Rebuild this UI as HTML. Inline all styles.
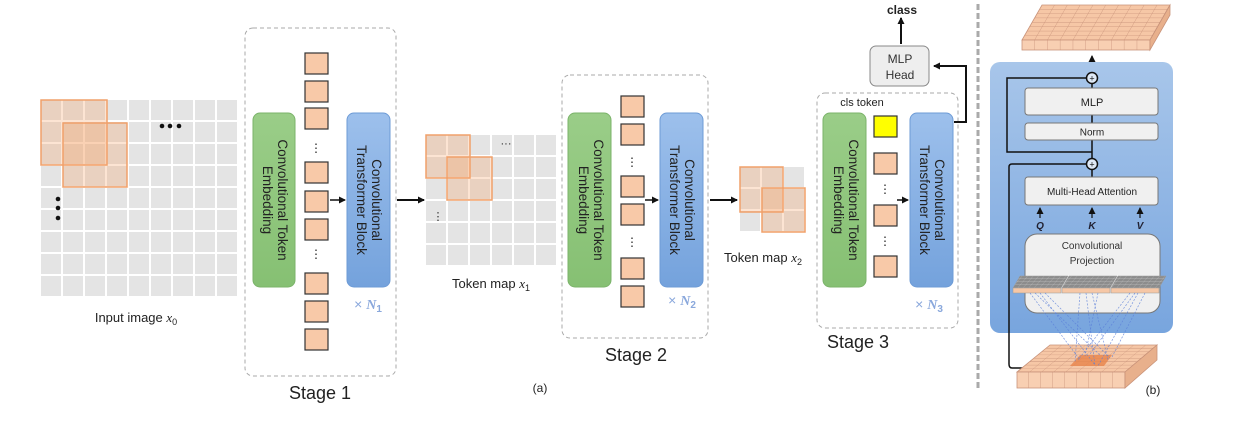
<!DOCTYPE html>
<html><head><meta charset="utf-8"><style>
html,body{margin:0;padding:0;background:#fff;}
svg{display:block;}
text{font-family:"Liberation Sans","DejaVu Sans",sans-serif;}
</style></head><body>
<svg width="1247" height="438" viewBox="0 0 1247 438" xmlns="http://www.w3.org/2000/svg">
<defs>
<pattern id="g22" x="41" y="100" width="22" height="22" patternUnits="userSpaceOnUse"><rect x="0" y="0" width="20" height="20" fill="#e4e4e4"/></pattern>
<pattern id="g22b" x="426" y="135" width="22" height="22" patternUnits="userSpaceOnUse"><rect x="0" y="0" width="20" height="20" fill="#e4e4e4"/></pattern>
<pattern id="g21" x="740" y="167" width="22" height="22" patternUnits="userSpaceOnUse"><rect x="0" y="0" width="20" height="20" fill="#e4e4e4"/></pattern>
<pattern id="tt" width="12.8" height="4.375" patternUnits="userSpaceOnUse" patternTransform="translate(1042,5) skewX(-29.7)"><rect width="12.8" height="4.375" fill="#f6c7a6"/><path d="M12.8 0V4.375M0 4.375H12.8" stroke="#c9937a" stroke-width="0.8" fill="none"/></pattern>
<pattern id="tf" width="12.8" height="10" x="1022" patternUnits="userSpaceOnUse"><rect width="12.8" height="10" fill="#f8cfb2"/><path d="M12.8 0V10" stroke="#c9937a" stroke-width="0.8"/></pattern>
<pattern id="bt" width="12" height="3.375" patternUnits="userSpaceOnUse" patternTransform="translate(1050,345) skewX(-50)"><rect width="12" height="3.375" fill="#f6c7a6"/><path d="M12 0V3.375M0 3.375H12" stroke="#c9937a" stroke-width="0.8" fill="none"/></pattern>
<pattern id="bf" width="12" height="20" x="1017" patternUnits="userSpaceOnUse"><rect width="12" height="20" fill="#f8cfb2"/><path d="M12 0V20" stroke="#c9937a" stroke-width="0.8"/></pattern>
<pattern id="st" width="5.5" height="3" patternUnits="userSpaceOnUse" patternTransform="skewX(-40)"><rect width="5.5" height="3" fill="#8c8c8c"/><path d="M5.5 0V3M0 3H5.5" stroke="#c8c8c8" stroke-width="0.5" fill="none"/></pattern>
<linearGradient id="bl" x1="0" y1="0" x2="0" y2="1"><stop offset="0" stop-color="#a8c6ea"/><stop offset="1" stop-color="#78a5de"/></linearGradient>
<linearGradient id="blb" x1="0" y1="0" x2="0" y2="1"><stop offset="0" stop-color="#9dc0ec"/><stop offset="1" stop-color="#74a2dc"/></linearGradient>
<linearGradient id="gr" x1="0" y1="0" x2="0" y2="1"><stop offset="0" stop-color="#9acd88"/><stop offset="1" stop-color="#86c073"/></linearGradient>
<marker id="ah" markerWidth="8" markerHeight="8" refX="6" refY="4" orient="auto" markerUnits="userSpaceOnUse"><path d="M0,0.5 L7,4 L0,7.5 Z" fill="#111"/></marker>
</defs>

<!-- Input image -->
<rect x="41" y="100" width="198" height="198" fill="url(#g22)"/>
<rect x="41" y="100" width="66" height="65" fill="rgba(245,165,110,0.3)" stroke="#f0a06a" stroke-width="1.5"/>
<rect x="63" y="123" width="64" height="64" fill="rgba(245,165,110,0.3)" stroke="#f0a06a" stroke-width="1.5"/>
<circle cx="162" cy="126" r="2.3" fill="#111"/><circle cx="170" cy="126" r="2.3" fill="#111"/><circle cx="179" cy="126" r="2.3" fill="#111"/>
<circle cx="58" cy="199" r="2.3" fill="#111"/><circle cx="58" cy="208" r="2.3" fill="#111"/><circle cx="58" cy="218" r="2.3" fill="#111"/>
<text x="136" y="322" font-size="13" text-anchor="middle" fill="#222">Input image <tspan font-family="Liberation Serif" font-style="italic">x</tspan><tspan font-size="9" dy="3">0</tspan></text>

<!-- Stage 1 -->
<rect x="245" y="28" width="151" height="348" rx="8" fill="none" stroke="#aaa" stroke-dasharray="4,3"/>
<rect x="253" y="113" width="42" height="174" rx="7" fill="url(#gr)" stroke="#7bb36a"/>
<g transform="translate(274,200) rotate(90)" font-size="13.5" fill="#222" text-anchor="middle"><text y="-4">Convolutional Token</text><text y="11">Embedding</text></g>
<rect x="347" y="113" width="43" height="174" rx="7" fill="url(#blb)" stroke="#6d9bd6"/>
<g transform="translate(368,200) rotate(90)" font-size="13.5" fill="#222" text-anchor="middle"><text y="-4">Convolutional</text><text y="11">Transformer Block</text></g>
<text x="368" y="309" font-size="14" fill="#8aa8dc" text-anchor="middle">× <tspan font-family="Liberation Serif" font-style="italic" font-weight="bold">N</tspan><tspan font-size="10" dy="3" font-weight="bold">1</tspan></text>
<g fill="#f8c9a8" stroke="#333" stroke-width="1.2">
<rect x="305" y="53" width="23" height="21"/><rect x="305" y="81" width="23" height="21"/><rect x="305" y="108" width="23" height="21"/>
<rect x="305" y="162" width="23" height="21"/><rect x="305" y="191" width="23" height="21"/><rect x="305" y="219" width="23" height="21"/>
<rect x="305" y="273" width="23" height="21"/><rect x="305" y="301" width="23" height="21"/><rect x="305" y="329" width="23" height="21"/>
</g>
<text x="316" y="152" font-size="12" text-anchor="middle" fill="#222">⋮</text>
<text x="316" y="258" font-size="12" text-anchor="middle" fill="#222">⋮</text>
<line x1="330" y1="200" x2="345" y2="200" stroke="#111" stroke-width="1.5" marker-end="url(#ah)"/>
<text x="320" y="399" font-size="18" text-anchor="middle" fill="#222">Stage 1</text>
<line x1="397" y1="200" x2="424" y2="200" stroke="#111" stroke-width="2" marker-end="url(#ah)"/>

<!-- Token map x1 -->
<rect x="426" y="135" width="131" height="131" fill="url(#g22b)"/>
<rect x="426" y="135" width="44" height="43" fill="rgba(245,165,110,0.3)" stroke="#f0a06a" stroke-width="1.5"/>
<rect x="447" y="157" width="45" height="43" fill="rgba(245,165,110,0.3)" stroke="#f0a06a" stroke-width="1.5"/>
<text x="506" y="147" font-size="11" text-anchor="middle" fill="#222">···</text>
<text x="438" y="220" font-size="11" text-anchor="middle" fill="#222">⋮</text>
<text x="491" y="288" font-size="13" text-anchor="middle" fill="#222">Token map <tspan font-family="Liberation Serif" font-style="italic">x</tspan><tspan font-size="9" dy="3">1</tspan></text>

<!-- Stage 2 -->
<rect x="562" y="75" width="146" height="263" rx="8" fill="none" stroke="#aaa" stroke-dasharray="4,3"/>
<rect x="568" y="113" width="43" height="174" rx="7" fill="url(#gr)" stroke="#7bb36a"/>
<g transform="translate(590,200) rotate(90)" font-size="13.5" fill="#222" text-anchor="middle"><text y="-4">Convolutional Token</text><text y="11">Embedding</text></g>
<rect x="660" y="113" width="43" height="174" rx="7" fill="url(#blb)" stroke="#6d9bd6"/>
<g transform="translate(681,200) rotate(90)" font-size="13.5" fill="#222" text-anchor="middle"><text y="-4">Convolutional</text><text y="11">Transformer Block</text></g>
<text x="682" y="305" font-size="14" fill="#8aa8dc" text-anchor="middle">× <tspan font-family="Liberation Serif" font-style="italic" font-weight="bold">N</tspan><tspan font-size="10" dy="3" font-weight="bold">2</tspan></text>
<g fill="#f8c9a8" stroke="#333" stroke-width="1.2">
<rect x="621" y="96" width="23" height="21"/><rect x="621" y="124" width="23" height="21"/>
<rect x="621" y="176" width="23" height="21"/><rect x="621" y="204" width="23" height="21"/>
<rect x="621" y="258" width="23" height="21"/><rect x="621" y="286" width="23" height="21"/>
</g>
<text x="632" y="166" font-size="12" text-anchor="middle" fill="#222">⋮</text>
<text x="632" y="246" font-size="12" text-anchor="middle" fill="#222">⋮</text>
<line x1="645" y1="200" x2="658" y2="200" stroke="#111" stroke-width="1.5" marker-end="url(#ah)"/>
<text x="636" y="361" font-size="18" text-anchor="middle" fill="#222">Stage 2</text>
<line x1="710" y1="200" x2="737" y2="200" stroke="#111" stroke-width="2" marker-end="url(#ah)"/>

<!-- Token map x2 -->
<rect x="740" y="167" width="64" height="64" fill="url(#g21)"/>
<rect x="740" y="167" width="43" height="45" fill="rgba(245,165,110,0.3)" stroke="#f0a06a" stroke-width="1.5"/>
<rect x="762" y="188" width="43" height="44" fill="rgba(245,165,110,0.3)" stroke="#f0a06a" stroke-width="1.5"/>
<text x="763" y="262" font-size="13" text-anchor="middle" fill="#222">Token map <tspan font-family="Liberation Serif" font-style="italic">x</tspan><tspan font-size="9" dy="3">2</tspan></text>

<!-- Stage 3 -->
<rect x="817" y="93" width="141" height="235" rx="8" fill="none" stroke="#aaa" stroke-dasharray="4,3"/>
<text x="862" y="106" font-size="11" text-anchor="middle" fill="#222">cls token</text>
<rect x="823" y="113" width="43" height="174" rx="7" fill="url(#gr)" stroke="#7bb36a"/>
<g transform="translate(845,200) rotate(90)" font-size="13.5" fill="#222" text-anchor="middle"><text y="-4">Convolutional Token</text><text y="11">Embedding</text></g>
<rect x="910" y="113" width="43" height="174" rx="7" fill="url(#blb)" stroke="#6d9bd6"/>
<g transform="translate(931,200) rotate(90)" font-size="13.5" fill="#222" text-anchor="middle"><text y="-4">Convolutional</text><text y="11">Transformer Block</text></g>
<text x="929" y="309" font-size="14" fill="#8aa8dc" text-anchor="middle">× <tspan font-family="Liberation Serif" font-style="italic" font-weight="bold">N</tspan><tspan font-size="10" dy="3" font-weight="bold">3</tspan></text>
<rect x="874" y="116" width="23" height="21" fill="#ffff00" stroke="#333" stroke-width="1.2"/>
<g fill="#f8c9a8" stroke="#333" stroke-width="1.2">
<rect x="874" y="153" width="23" height="21"/><rect x="874" y="205" width="23" height="21"/><rect x="874" y="256" width="23" height="21"/>
</g>
<text x="885" y="193" font-size="12" text-anchor="middle" fill="#222">⋮</text>
<text x="885" y="245" font-size="12" text-anchor="middle" fill="#222">⋮</text>
<line x1="897" y1="200" x2="908" y2="200" stroke="#111" stroke-width="1.5" marker-end="url(#ah)"/>
<text x="858" y="348" font-size="18" text-anchor="middle" fill="#222">Stage 3</text>

<!-- MLP head -->
<rect x="870" y="46" width="59" height="40" rx="6" fill="#eeeeee" stroke="#888"/>
<text x="900" y="63" font-size="12" text-anchor="middle" fill="#333">MLP</text>
<text x="900" y="79" font-size="12" text-anchor="middle" fill="#333">Head</text>
<line x1="901" y1="44" x2="901" y2="18" stroke="#111" stroke-width="2" marker-end="url(#ah)"/>
<text x="902" y="14" font-size="12" text-anchor="middle" font-weight="bold" fill="#222">class</text>
<path d="M954 122 H966 V66 H934" fill="none" stroke="#111" stroke-width="2" marker-end="url(#ah)"/>

<text x="540" y="392" font-size="12" font-family="Liberation Serif" text-anchor="middle" fill="#222">(a)</text>

<!-- divider -->
<line x1="978" y1="4" x2="978" y2="388" stroke="#aaa" stroke-width="3" stroke-dasharray="6,3"/>

<!-- (b) panel -->
<polygon points="1042,5 1170,5 1150,40 1022,40" fill="url(#tt)" stroke="#c9937a" stroke-width="0.8"/>
<rect x="1022" y="40" width="128" height="10" fill="url(#tf)" stroke="#c9937a" stroke-width="0.8"/>
<polygon points="1150,40 1170,5 1170,15 1150,50" fill="#e8b08c" stroke="#c9937a" stroke-width="0.8"/>
<line x1="1092" y1="72" x2="1092" y2="56" stroke="#111" stroke-width="1.3" marker-end="url(#ah)"/>

<rect x="990" y="62" width="183" height="271" rx="10" fill="url(#bl)"/>
<line x1="1092" y1="84" x2="1092" y2="88" stroke="#111" stroke-width="1.5"/>
<line x1="1092" y1="115" x2="1092" y2="123" stroke="#111" stroke-width="1.5"/>
<line x1="1092" y1="140" x2="1092" y2="159" stroke="#111" stroke-width="1.5"/>
<line x1="1092" y1="170" x2="1092" y2="177" stroke="#111" stroke-width="1.5"/>
<path d="M1092 152 H1007 V78 H1086" fill="none" stroke="#111" stroke-width="1.5"/>
<path d="M1027 368 H1012 Q1009 368 1009 364 V167 Q1009 164 1012 164 H1086" fill="none" stroke="#111" stroke-width="1.5"/>
<circle cx="1092" cy="78" r="5.5" fill="#dfe9f6" stroke="#111" stroke-width="1.5"/>
<text x="1092" y="81.5" font-size="9" text-anchor="middle" fill="#111">+</text>
<circle cx="1092" cy="164" r="5.5" fill="#dfe9f6" stroke="#111" stroke-width="1.5"/>
<text x="1092" y="167.5" font-size="9" text-anchor="middle" fill="#111">+</text>
<rect x="1025" y="88" width="133" height="27" rx="3" fill="#f0f0f0" stroke="#777"/>
<text x="1092" y="106" font-size="11" text-anchor="middle" fill="#222">MLP</text>
<rect x="1025" y="123" width="133" height="17" rx="3" fill="#f0f0f0" stroke="#777"/>
<text x="1092" y="135.5" font-size="10" text-anchor="middle" fill="#222">Norm</text>
<rect x="1025" y="177" width="133" height="28" rx="3" fill="#f0f0f0" stroke="#777"/>
<text x="1092" y="195" font-size="10" text-anchor="middle" fill="#222">Multi-Head Attention</text>
<g stroke="#111" stroke-width="1.2">
<line x1="1040" y1="218" x2="1040" y2="208" marker-end="url(#ah)"/>
<line x1="1092" y1="218" x2="1092" y2="208" marker-end="url(#ah)"/>
<line x1="1140" y1="218" x2="1140" y2="208" marker-end="url(#ah)"/>
</g>
<g font-family="Liberation Serif" font-style="italic" font-weight="bold" font-size="10" fill="#223" text-anchor="middle">
<text x="1040" y="229">Q</text><text x="1092" y="229">K</text><text x="1140" y="229">V</text></g>
<rect x="1025" y="234" width="135" height="79" rx="12" fill="#f0f0f0" stroke="#777"/>
<text x="1092" y="249" font-size="10" text-anchor="middle" fill="#333">Convolutional</text>
<text x="1092" y="264" font-size="10" text-anchor="middle" fill="#333">Projection</text>
<g stroke="#999" stroke-width="0.5">
<polygon points="1020,276 1068,276 1061,288 1013,288" fill="url(#st)"/><rect x="1013" y="288" width="48" height="5" fill="#f6c7a6"/>
<polygon points="1069,276 1117,276 1110,288 1062,288" fill="url(#st)"/><rect x="1062" y="288" width="48" height="5" fill="#f6c7a6"/>
<polygon points="1118,276 1166,276 1159,288 1111,288" fill="url(#st)"/><rect x="1111" y="288" width="48" height="5" fill="#f6c7a6"/>
</g>
<polygon points="1050,345 1157,345 1125,372 1017,372" fill="url(#bt)" stroke="#c9937a" stroke-width="0.8"/>
<polygon points="1080,355 1112,355 1104,366 1070,366" fill="#e8834a" opacity="0.8"/>
<rect x="1017" y="372" width="108" height="16" fill="url(#bf)" stroke="#c9937a" stroke-width="0.8"/>
<polygon points="1125,372 1157,345 1157,360 1125,388" fill="#e8b08c" stroke="#c9937a" stroke-width="0.8"/>
<g stroke="#5b7fd8" stroke-width="0.7" stroke-dasharray="2,1.5" opacity="0.8">
<line x1="1030" y1="293" x2="1080" y2="360"/><line x1="1040" y1="293" x2="1095" y2="365"/><line x1="1045" y1="293" x2="1110" y2="358"/><line x1="1035" y1="293" x2="1100" y2="355"/>
<line x1="1080" y1="293" x2="1075" y2="362"/><line x1="1086" y1="293" x2="1095" y2="366"/><line x1="1092" y1="293" x2="1108" y2="360"/><line x1="1098" y1="293" x2="1085" y2="356"/>
<line x1="1130" y1="293" x2="1078" y2="360"/><line x1="1138" y1="293" x2="1098" y2="366"/><line x1="1145" y1="293" x2="1112" y2="357"/><line x1="1135" y1="293" x2="1090" y2="354"/>
</g>
<text x="1153" y="394" font-size="12" font-family="Liberation Serif" text-anchor="middle" fill="#222">(b)</text>
</svg>
</body></html>
